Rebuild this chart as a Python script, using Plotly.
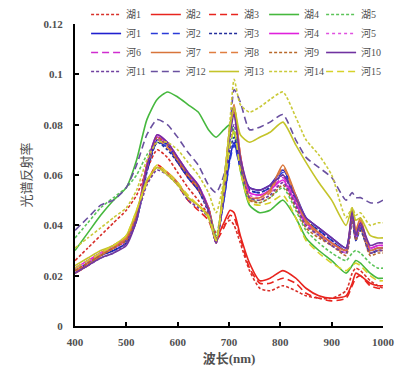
import plotly.graph_objects as go

wavelength = [400, 425, 450, 475, 500, 520, 540, 560, 580, 600, 620, 640, 660, 675, 690, 702, 710, 722,
              740, 760, 780, 805, 830, 850, 875, 900, 928, 940, 947, 956, 975, 990, 1000]

hu1 = [.026,.031,.036,.041,.046,.052,.062,.070,.067,.061,.055,.050,.044,.037,.040,.042,.040,.033,.022,.015,.014,.016,.014,.012,.011,.011,.014,.021,.023,.022,.018,.016,.015]
hu2 = [.021,.025,.029,.031,.034,.043,.064,.075,.072,.065,.059,.054,.047,.035,.041,.046,.045,.036,.025,.018,.019,.022,.019,.015,.012,.011,.012,.017,.021,.020,.017,.016,.016]
hu3 = [.021,.024,.028,.031,.035,.045,.057,.064,.061,.056,.050,.046,.042,.034,.039,.044,.043,.035,.023,.017,.017,.019,.017,.013,.011,.010,.011,.016,.019,.020,.016,.015,.015]
hu4 = [.030,.037,.044,.050,.055,.066,.082,.090,.093,.091,.088,.085,.078,.075,.078,.080,.077,.062,.048,.045,.046,.050,.043,.035,.030,.026,.021,.024,.026,.025,.021,.019,.019]
hu5 = [.035,.041,.047,.051,.055,.060,.068,.073,.072,.066,.060,.055,.047,.036,.054,.072,.077,.064,.051,.049,.051,.055,.046,.038,.033,.029,.026,.029,.030,.029,.025,.023,.023]
he1 = [.022,.025,.028,.030,.033,.042,.062,.074,.072,.066,.060,.055,.046,.034,.050,.067,.073,.063,.055,.054,.056,.062,.052,.043,.039,.035,.031,.044,.035,.040,.030,.031,.031]
he2 = [.023,.026,.029,.031,.034,.043,.062,.073,.071,.065,.059,.054,.046,.034,.050,.066,.072,.063,.054,.053,.055,.061,.051,.042,.038,.034,.030,.043,.034,.039,.029,.030,.030]
he3 = [.022,.025,.028,.030,.033,.042,.061,.073,.070,.065,.059,.054,.045,.033,.052,.070,.075,.064,.054,.053,.055,.060,.050,.042,.038,.034,.030,.042,.034,.038,.029,.030,.030]
he4 = [.023,.026,.029,.032,.035,.044,.064,.076,.073,.067,.061,.056,.047,.033,.055,.079,.087,.068,.053,.052,.054,.058,.049,.041,.037,.033,.030,.045,.036,.041,.031,.032,.032]
he5 = [.022,.025,.029,.031,.034,.043,.063,.075,.072,.066,.060,.055,.046,.033,.054,.077,.085,.066,.052,.051,.053,.057,.048,.040,.036,.033,.029,.044,.035,.040,.030,.031,.031]
he6 = [.023,.026,.029,.032,.035,.044,.064,.075,.073,.067,.061,.056,.047,.033,.055,.078,.086,.067,.053,.052,.054,.059,.049,.041,.037,.033,.030,.046,.036,.041,.031,.032,.032]
he7 = [.021,.024,.028,.031,.035,.045,.057,.063,.061,.057,.051,.048,.044,.033,.056,.080,.088,.068,.051,.051,.054,.064,.052,.042,.037,.033,.030,.047,.038,.043,.030,.031,.031]
he8 = [.022,.025,.029,.032,.035,.044,.063,.074,.071,.066,.060,.055,.046,.033,.055,.079,.087,.068,.050,.050,.053,.063,.051,.041,.036,.032,.029,.046,.037,.042,.029,.030,.030]
he9 = [.022,.025,.028,.031,.034,.043,.064,.075,.072,.066,.060,.055,.047,.034,.054,.077,.085,.066,.050,.049,.051,.056,.047,.039,.035,.032,.028,.043,.034,.039,.028,.029,.029]
he10 = [.021,.024,.027,.029,.032,.042,.063,.076,.073,.067,.061,.056,.046,.033,.053,.076,.084,.067,.055,.054,.056,.060,.051,.043,.039,.035,.031,.046,.036,.041,.032,.033,.033]
he11 = [.021,.024,.027,.029,.033,.043,.056,.062,.060,.056,.050,.047,.043,.033,.052,.074,.080,.064,.051,.050,.052,.057,.048,.040,.036,.032,.029,.044,.035,.040,.029,.030,.030]
he12 = [.038,.043,.048,.050,.055,.064,.076,.082,.080,.075,.069,.064,.056,.053,.060,.078,.094,.089,.078,.079,.081,.084,.074,.067,.063,.059,.050,.053,.051,.051,.049,.049,.050]
he13 = [.024,.027,.030,.032,.036,.046,.058,.063,.060,.056,.051,.048,.043,.034,.057,.079,.087,.076,.073,.075,.077,.081,.072,.065,.057,.050,.040,.047,.042,.043,.036,.035,.035]
he14 = [.031,.035,.039,.043,.047,.054,.066,.073,.073,.070,.065,.060,.053,.045,.058,.082,.098,.088,.085,.087,.090,.093,.083,.074,.068,.060,.043,.047,.044,.045,.040,.041,.041]
he15 = [.023,.026,.029,.032,.036,.046,.057,.064,.061,.057,.052,.048,.044,.034,.053,.072,.078,.062,.049,.048,.049,.052,.043,.034,.029,.025,.022,.024,.025,.024,.020,.018,.018]

series_names = ["湖1", "湖2", "湖3", "湖4", "湖5",
                "河1", "河2", "河3", "河4", "河5",
                "河6", "河7", "河8", "河9", "河10",
                "河11", "河12", "河13", "河14", "河15"]
series_values = [hu1, hu2, hu3, hu4, hu5, he1, he2, he3, he4, he5,
                 he6, he7, he8, he9, he10, he11, he12, he13, he14, he15]

SHORT = "3px,2px"
LONG = "7px,4px"
styles = [
    ("#D8302A", SHORT), ("#E8241E", "solid"), ("#E8241E", LONG), ("#46B83E", "solid"), ("#5CC45A", SHORT),
    ("#1F1FCF", "solid"), ("#2A3AD8", LONG), ("#232E9C", SHORT), ("#E020DC", "solid"), ("#E050E0", "dot"),
    ("#D02CD0", LONG), ("#D8743A", "solid"), ("#E07E40", LONG), ("#B8682A", SHORT), ("#7032A0", "solid"),
    ("#7040A0", SHORT), ("#6A50A0", LONG), ("#C4C42A", "solid"), ("#CACA3A", SHORT), ("#D6D22A", LONG),
]

FONT = "Liberation Serif, Noto Sans CJK SC, serif"
GRAY = "#505050"
legend_ids = ["legend", "legend2", "legend3", "legend4", "legend5"]
legend_x = [0.036, 0.230, 0.419, 0.614, 0.799]

fig = go.Figure()
for i, (name, vals, (col, dash)) in enumerate(zip(series_names, series_values, styles)):
    fig.add_trace(go.Scatter(
        x=wavelength, y=vals, name=name, mode="lines", legend=legend_ids[i % 5],
        line=dict(color=col, width=1.6, dash=dash, shape="spline", smoothing=0.6),
    ))

legend_common = dict(
    orientation="v", xanchor="left", y=1.0, yanchor="top",
    font=dict(family=FONT, size=10, color=GRAY),
    bgcolor="rgba(0,0,0,0)", borderwidth=0, tracegroupgap=0, itemwidth=30,
)
legends = {lid: dict(legend_common, x=lx) for lid, lx in zip(legend_ids, legend_x)}

fig.update_layout(
    width=400, height=389,
    margin=dict(l=75, r=17, t=0, b=63),
    paper_bgcolor="white", plot_bgcolor="white",
    font=dict(family=FONT, color=GRAY, size=11),
    showlegend=True,
    **legends,
    xaxis=dict(
        range=[400, 1000], dtick=100, tick0=400,
        showline=True, linecolor="black", linewidth=2,
        ticks="inside", ticklen=4, tickwidth=1.5, tickcolor="black",
        showgrid=False, zeroline=False, automargin=False,
        tickfont=dict(family=FONT, size=11, color=GRAY, weight="bold"),
        ticklabelstandoff=5,
        title=dict(text="波长(nm)", font=dict(family=FONT, size=13, color=GRAY, weight="bold"), standoff=7),
    ),
    yaxis=dict(
        range=[0, 0.12], dtick=0.02, tick0=0, domain=[0, 302 / 326],
        showline=True, linecolor="black", linewidth=2,
        ticks="inside", ticklen=4, tickwidth=1.5, tickcolor="black",
        showgrid=False, zeroline=False, automargin=False,
        tickfont=dict(family=FONT, size=11, color=GRAY, weight="bold"),
        ticklabelstandoff=8,
        title=dict(text="光谱反射率", font=dict(family=FONT, size=13, color=GRAY), standoff=9),
    ),
)

fig.write_html("out.html", config={"displayModeBar": False},
               post_script="document.body.style.margin='0px';")
